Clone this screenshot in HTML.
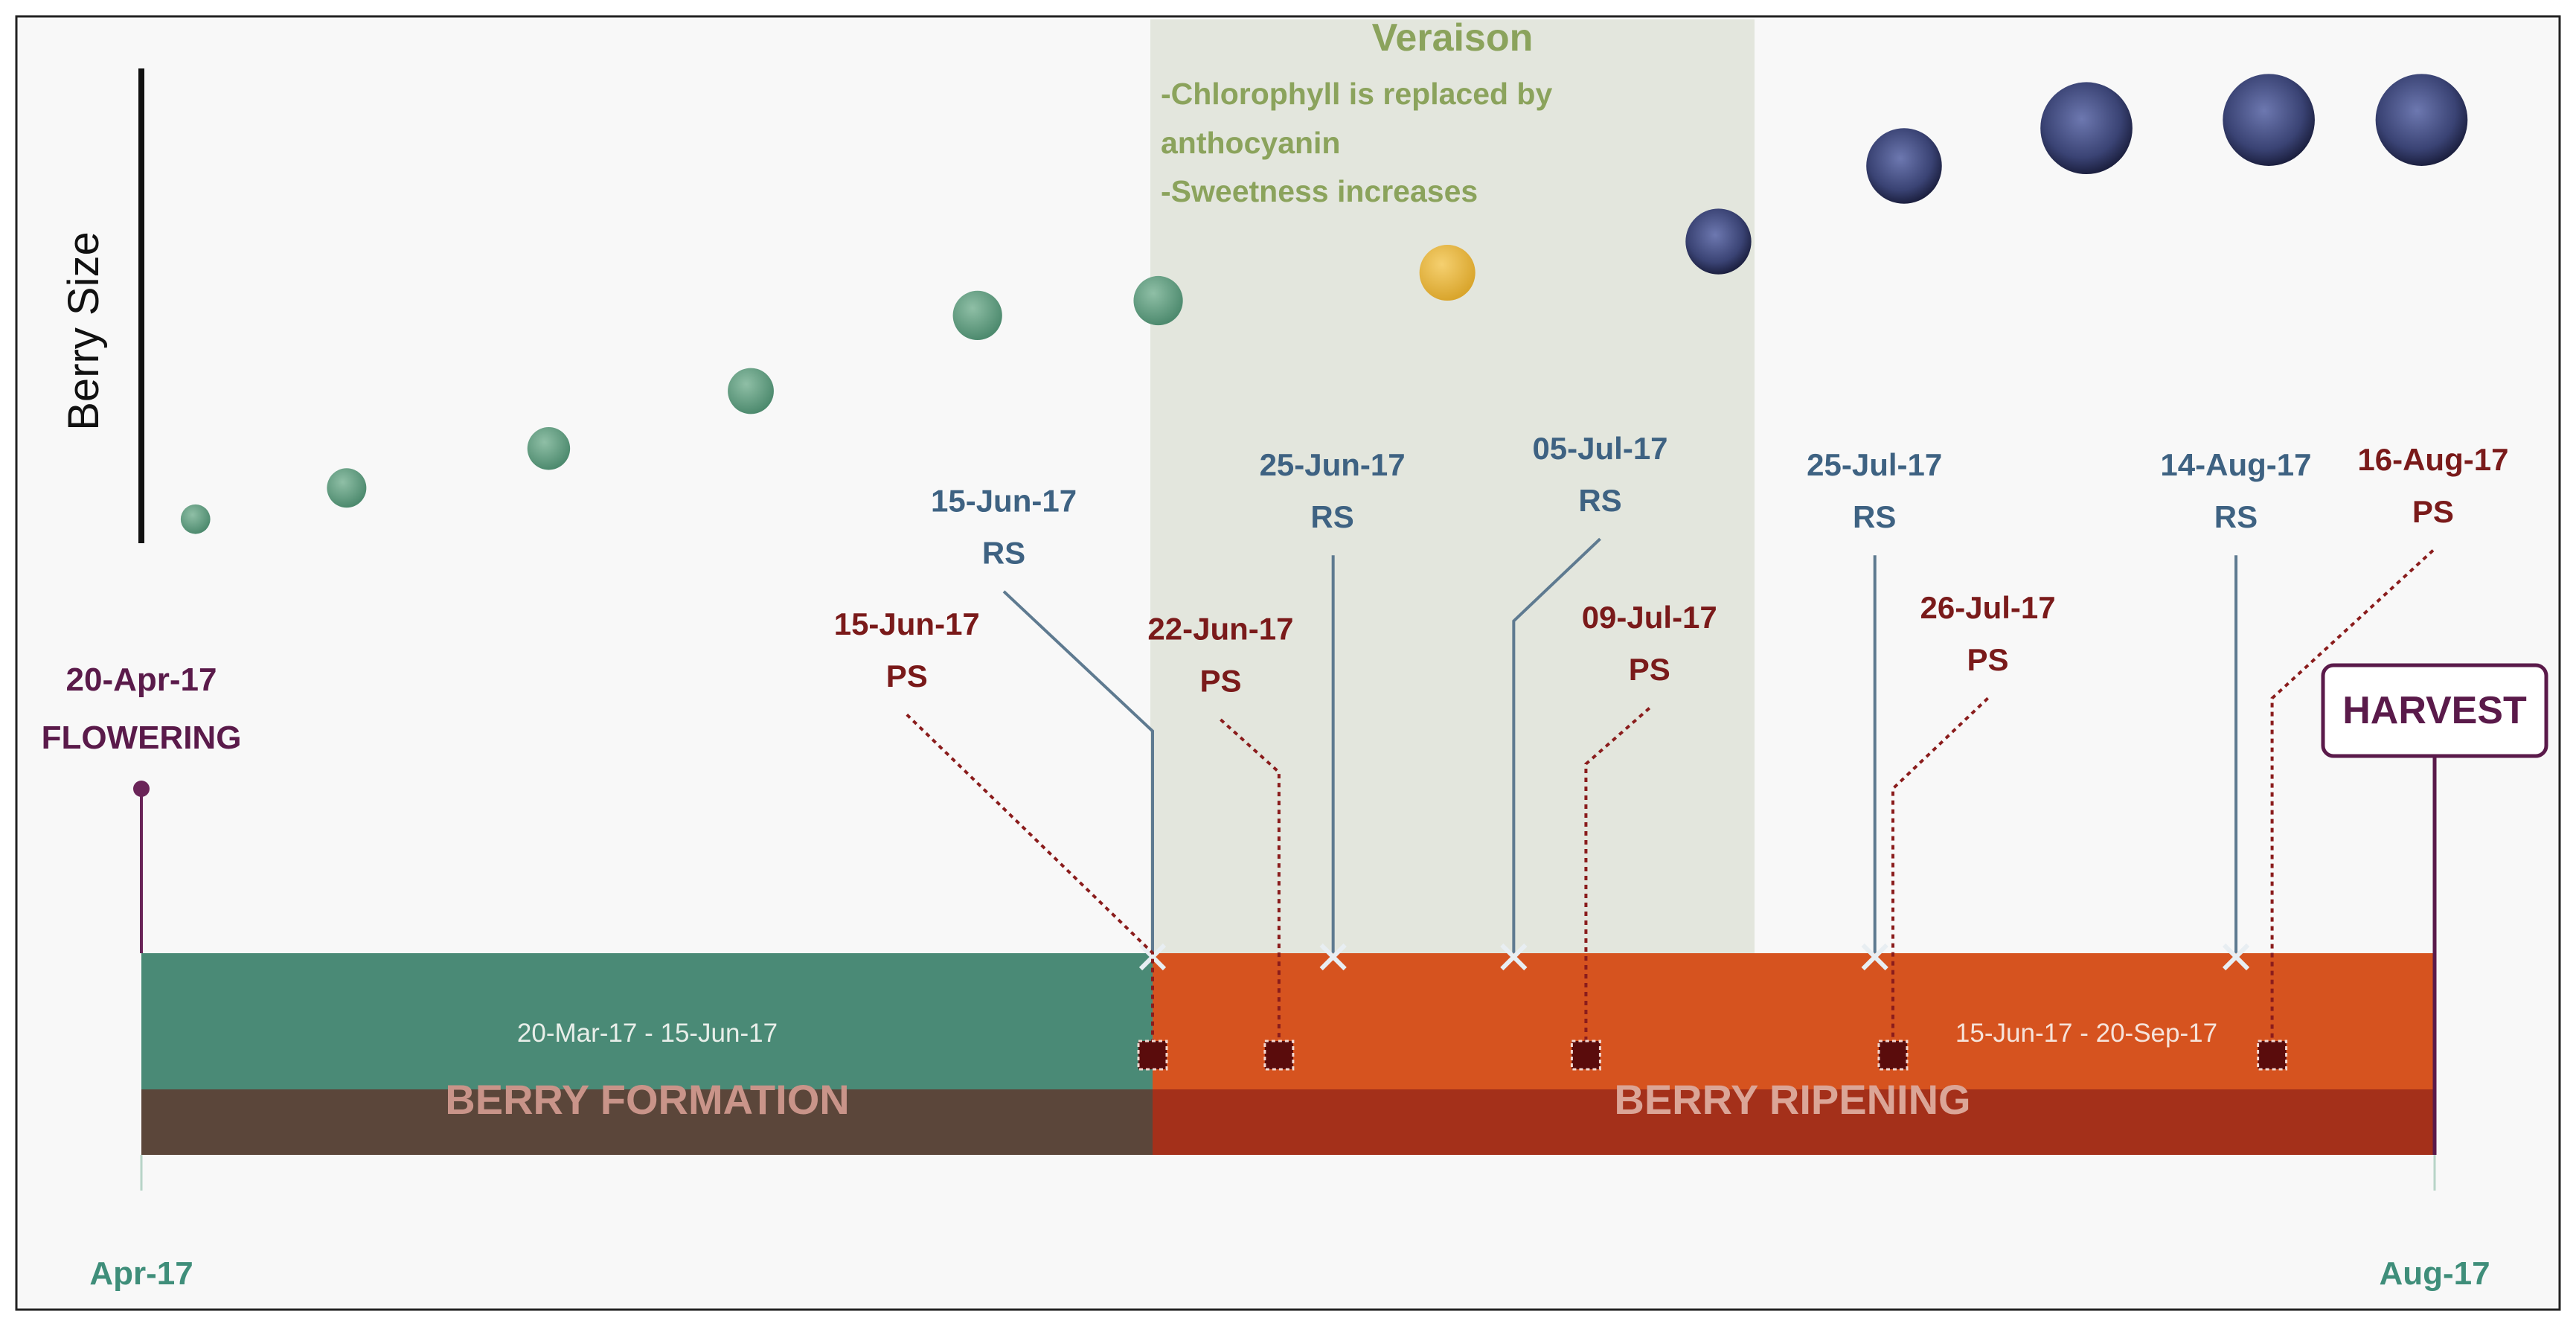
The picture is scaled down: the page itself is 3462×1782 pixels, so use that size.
<!DOCTYPE html>
<html><head><meta charset="utf-8"><style>
html,body{margin:0;padding:0;background:#fff;}
svg{display:block;}
text{font-family:"Liberation Sans",sans-serif;}
.b{font-weight:bold;}
</style></head><body>
<svg id="chart" width="3462" height="1782" viewBox="0 0 3462 1782" xmlns="http://www.w3.org/2000/svg">
<defs>
<radialGradient id="gG" cx="40%" cy="35%" r="65%"><stop offset="0" stop-color="#8fbfa6"/><stop offset="1" stop-color="#4d8a6e"/></radialGradient>
<radialGradient id="gY" cx="40%" cy="35%" r="65%"><stop offset="0" stop-color="#f5d070"/><stop offset="1" stop-color="#d9a52c"/></radialGradient>
<radialGradient id="gB" cx="45%" cy="40%" r="60%"><stop offset="0" stop-color="#6d78b0"/><stop offset="0.7" stop-color="#3a4374"/><stop offset="1" stop-color="#1c2040"/></radialGradient>
</defs>
<rect x="0" y="0" width="3462" height="1782" fill="#ffffff"/>
<rect x="22" y="22" width="3418" height="1738" fill="#f8f8f8" stroke="#222" stroke-width="3"/>
<rect x="1546" y="26" width="812" height="1255" fill="#e3e6dd"/>
<text x="1952" y="68" font-size="52" class="b" fill="#8ba35c" text-anchor="middle">Veraison</text>
<text x="1560" y="140" font-size="41" class="b" fill="#8ba35c">-Chlorophyll is replaced  by</text>
<text x="1560" y="206" font-size="41" class="b" fill="#8ba35c">anthocyanin</text>
<text x="1560" y="271" font-size="41" class="b" fill="#8ba35c">-Sweetness increases</text>
<line x1="190" y1="92" x2="190" y2="730" stroke="#111" stroke-width="8"/>
<text transform="translate(132,445) rotate(-90)" font-size="58" fill="#111" text-anchor="middle">Berry Size</text>
<g id="berries"></g>
<g id="bars"></g>
<g id="markers"></g>
</svg>
<script>
const NS="http://www.w3.org/2000/svg";
// data
const berryX=[119,211,334,457,595,705,881,1046,1159,1270,1381,1474];
const berrySize=[9,12,13,14,15,15,17,20,23,28,28,28];
const berryHeight=[316,297,273,238,192,183,166,147,101,78,73,73];
const berryStage=["g","g","g","g","g","g","y","b","b","b","b","b"];
const rsDates=["15-Jun-17","25-Jun-17","05-Jul-17","25-Jul-17","14-Aug-17"];
const rsDay=[56,66,76,96,116];
const psDates=["15-Jun-17","22-Jun-17","09-Jul-17","26-Jul-17","16-Aug-17"];
const psDay=[56,63,80,97,118];
const phaseNames=["BERRY FORMATION","BERRY RIPENING"];
const phaseRanges=["20-Mar-17 - 15-Jun-17","15-Jun-17 - 20-Sep-17"];
const phaseStart=[0,56];
const phaseEnd=[56,127];
const axisLabels=["Apr-17","Aug-17"];
const axisDays=[0,127];
// scales
const S=3462/1568;
const xDay=d=>190+d*(3272-190)/127;
const xPrev=p=>p*S;
function el(tag,attrs,txt){const e=document.createElementNS(NS,tag);for(const k in attrs)e.setAttribute(k,attrs[k]);if(txt!==undefined)e.textContent=txt;return e;}
const berries=document.getElementById('berries');
berryX.forEach((bx,i)=>{
 const c=el('circle',{cx:xPrev(bx),cy:xPrev(berryHeight[i]),r:xPrev(berrySize[i]),fill:berryStage[i]=="g"?"url(#gG)":berryStage[i]=="y"?"url(#gY)":"url(#gB)"});
 
 
 berries.appendChild(c);
});
const bars=document.getElementById('bars');
const phaseColors=[["#4a8a76","#5b463a"],["#d6531f","#a4301a"]];
phaseNames.forEach((n,i)=>{
 const x0=xDay(phaseStart[i]),x1=xDay(phaseEnd[i]);
 const r1=el('rect',{x:x0,y:1281,width:x1-x0,height:183,fill:phaseColors[i][0]});
 
 
 bars.appendChild(r1);
 const r2=el('rect',{x:x0,y:1464,width:x1-x0,height:88,fill:phaseColors[i][1]});
 
 
 bars.appendChild(r2);
});
const t1=el('text',{x:870,y:1400,'font-size':35,fill:'#e8eee9','text-anchor':'middle'},phaseRanges[0]);
bars.appendChild(t1);
const t2=el('text',{x:2804,y:1400,'font-size':35,fill:'#f6e3da','text-anchor':'middle'},phaseRanges[1]);
bars.appendChild(t2);
const t3=el('text',{x:870,y:1497,'font-size':56,'font-weight':'bold',fill:'#c99489','text-anchor':'middle'},phaseNames[0]);
bars.appendChild(t3);
const t4=el('text',{x:2409,y:1497,'font-size':56,'font-weight':'bold',fill:'#dba597','text-anchor':'middle'},phaseNames[1]);
bars.appendChild(t4);
axisLabels.forEach((l,i)=>{
 const x=xDay(axisDays[i]);
 const tk=el('line',{x1:x,y1:1552,x2:x,y2:1600,stroke:'#b8d4c8','stroke-width':3});
 bars.appendChild(tk);
 const t=el('text',{x:x,y:1726,'font-size':44,'font-weight':'bold',fill:'#3f8e7a','text-anchor':'middle'},l);
 bars.appendChild(t);
});
const m=document.getElementById('markers');
// flowering
const fl=el('line',{x1:190,y1:1060,x2:190,y2:1281,stroke:'#6a2458','stroke-width':4});
m.appendChild(fl);
const fd=el('circle',{cx:190,cy:1060,r:11,fill:'#6a2458'});
m.appendChild(fd);
const ft1=el('text',{x:190,y:928,'font-size':44,'font-weight':'bold',fill:'#5a1a4a','text-anchor':'middle'},'20-Apr-17');
m.appendChild(ft1);
const ft2=el('text',{x:190,y:1006,'font-size':44,'font-weight':'bold',fill:'#5a1a4a','text-anchor':'middle'},'FLOWERING');
m.appendChild(ft2);
// harvest
const hl=el('line',{x1:3272,y1:1016,x2:3272,y2:1552,stroke:'#5a1a4a','stroke-width':5});
m.appendChild(hl);
const hb=el('rect',{x:3122,y:894,width:300,height:122,rx:14,fill:'#fff',stroke:'#5a1a4a','stroke-width':5});
m.appendChild(hb);
const ht=el('text',{x:3272,y:972,'font-size':52,'font-weight':'bold',fill:'#5a1a4a','text-anchor':'middle'},'HARVEST');
m.appendChild(ht);
const rsLab=[[611,305],[811,283],[974,273],[1141,283],[1361,283]];
rsDates.forEach((d,i)=>{
 const x=xDay(rsDay[i]);const lx=xPrev(rsLab[i][0]),ly=xPrev(rsLab[i][1]);
 const ky=xPrev(rsLab[i][1]+55);
 let pts;
 if(Math.abs(lx-x)<20) pts=`${x},${ky} ${x},1281`;
 else { const kneeY=xPrev(lx<x?445:378); pts=`${lx},${ky} ${x},${kneeY} ${x},1281`; }
 const pl=el('polyline',{points:pts,fill:'none',stroke:'#5e7a90','stroke-width':4});
 m.appendChild(pl);
 const xm=el('path',{d:`M${x-16},${1270} L${x+16},${1302} M${x+16},${1270} L${x-16},${1302}`,stroke:'#e8eef2','stroke-width':6});
 m.appendChild(xm);
 const t=el('text',{x:lx,y:ly+14,'font-size':42,'font-weight':'bold',fill:'#3e6282','text-anchor':'middle'},d);
 m.appendChild(t);
 const t2=el('text',{x:lx,y:ly+84,'font-size':42,'font-weight':'bold',fill:'#3e6282','text-anchor':'middle'},'RS');
 m.appendChild(t2);
});
const psLab=[[552,380,580],[743,383,470],[1004,376,465],[1210,370,480],[1481,280,425]];
psDates.forEach((d,i)=>{
 const x=xDay(psDay[i]);const lx=xPrev(psLab[i][0]),ly=xPrev(psLab[i][1]);
 const ky=xPrev(psLab[i][1]+55);const knee=xPrev(psLab[i][2]);
 const pl=el('polyline',{points:`${lx},${ky} ${x},${knee} ${x},1405`,fill:'none',stroke:'#8a1c1c','stroke-width':4,'stroke-dasharray':'6 6'});
 m.appendChild(pl);
 const sq=el('rect',{x:x-19,y:1399,width:38,height:38,fill:'#5a0c0c',stroke:'#f3d7cf','stroke-width':3,'stroke-dasharray':'5 4'});
 m.appendChild(sq);
 const t=el('text',{x:lx,y:ly+14,'font-size':42,'font-weight':'bold',fill:'#7a1a1a','text-anchor':'middle'},d);
 m.appendChild(t);
 const t2=el('text',{x:lx,y:ly+84,'font-size':42,'font-weight':'bold',fill:'#7a1a1a','text-anchor':'middle'},'PS');
 m.appendChild(t2);
});
</script>
</body></html>
